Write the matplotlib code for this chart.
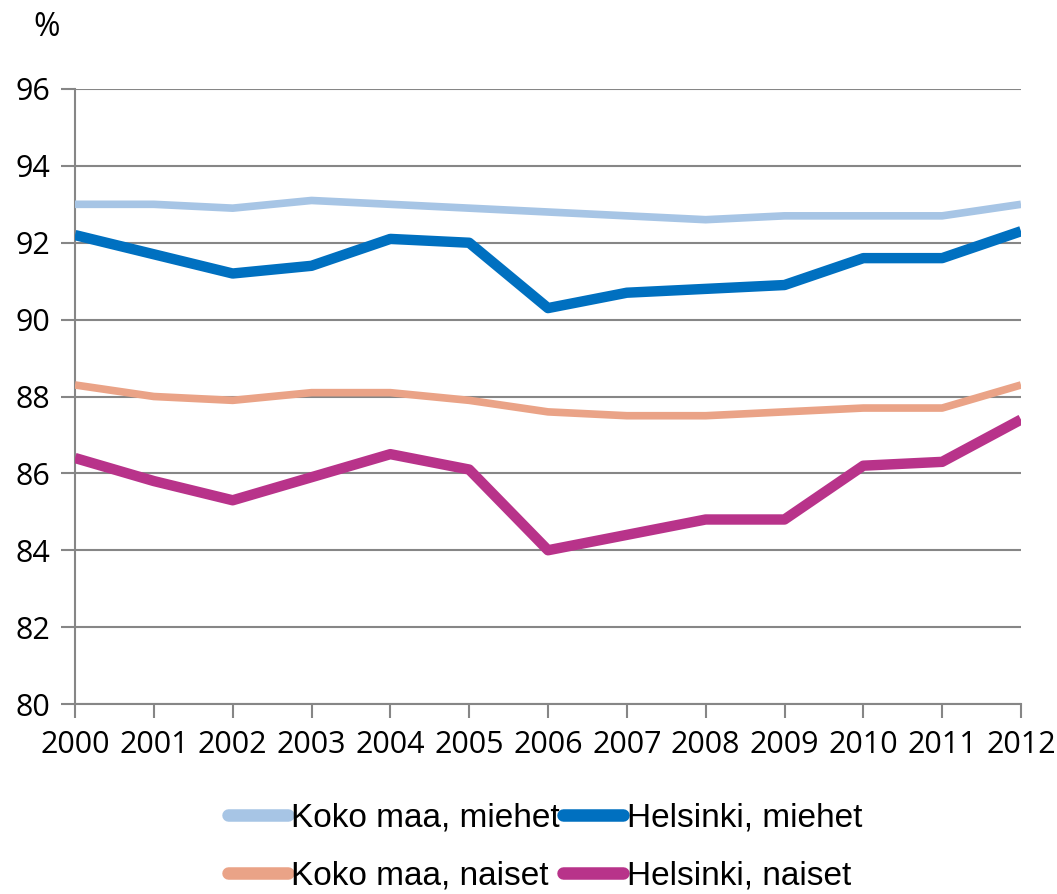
import matplotlib
matplotlib.use("Agg")
import matplotlib.pyplot as plt

years = list(range(2000, 2013))
koko_miehet = [93.0, 93.0, 92.9, 93.1, 93.0, 92.9, 92.8, 92.7, 92.6, 92.7, 92.7, 92.7, 93.0]
hki_miehet = [92.2, 91.7, 91.2, 91.4, 92.1, 92.0, 90.3, 90.7, 90.8, 90.9, 91.6, 91.6, 92.3]
koko_naiset = [88.3, 88.0, 87.9, 88.1, 88.1, 87.9, 87.6, 87.5, 87.5, 87.6, 87.7, 87.7, 88.3]
hki_naiset = [86.4, 85.8, 85.3, 85.9, 86.5, 86.1, 84.0, 84.4, 84.8, 84.8, 86.2, 86.3, 87.4]
labels = ["Koko maa, miehet", "Helsinki, miehet", "Koko maa, naiset", "Helsinki, naiset"]
yticks = [80, 82, 84, 86, 88, 90, 92, 94, 96]

fig = plt.figure(figsize=(10.57, 8.94), dpi=100)
ax = fig.add_axes([75/1057, 1-704/894, (1021-75)/1057, (704-89)/894])

grid_c = "#868686"
l1, = ax.plot(years, koko_miehet, color="#A7C5E5", lw=5.5, solid_capstyle="butt", label=labels[0], zorder=3)
l2, = ax.plot(years, hki_miehet, color="#0070C0", lw=7.5, solid_capstyle="butt", label=labels[1], zorder=4)
l3, = ax.plot(years, koko_naiset, color="#EAA387", lw=5.5, solid_capstyle="butt", label=labels[2], zorder=3)
l4, = ax.plot(years, hki_naiset, color="#B8338A", lw=7.5, solid_capstyle="butt", label=labels[3], zorder=4)

ax.set_xlim(2000, 2012)
ax.set_ylim(80, 96)
ax.set_yticks(yticks)
ax.set_xticks(years)
ax.yaxis.grid(True, color=grid_c, lw=1.5)
ax.set_axisbelow(True)
for s in ["top", "right"]:
    ax.spines[s].set_visible(False)
for s in ["left", "bottom"]:
    ax.spines[s].set_color(grid_c)
    ax.spines[s].set_linewidth(1.5)
ax.tick_params(axis="both", colors=grid_c, width=1.5, length=10, labelcolor="black", labelsize=22)
ax.tick_params(axis="x", pad=9)
ax.tick_params(axis="y", pad=8)
for t in ax.get_xticklabels() + ax.get_yticklabels():
    t.set_fontfamily("Open Sans")

fig.text(47/1057, 1-27/894, "%", fontsize=23, family="Open Sans", ha="center", va="center")

handles = [l1, l3, l2, l4]
leg = fig.legend(handles, [h.get_label() for h in handles], loc="center",
                 bbox_to_anchor=(545/1057, 1-847/894), ncol=2, frameon=False,
                 prop={"family": "Liberation Sans", "size": 24}, handlelength=1.8, handletextpad=0.1,
                 columnspacing=0.1, labelspacing=0.8)
for h in leg.get_lines():
    h.set_linewidth(9)
    h.set_solid_capstyle("round")

fig.savefig("out.png", dpi=100)
